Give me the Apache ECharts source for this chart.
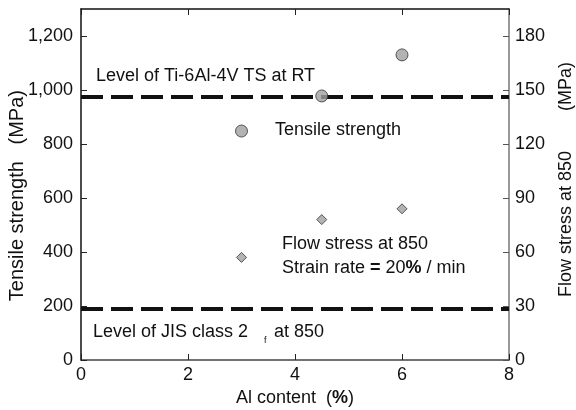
<!DOCTYPE html>
<html>
<head>
<meta charset="utf-8">
<script src="https://cdn.jsdelivr.net/npm/echarts@6/dist/echarts.min.js"></script>
<style>
  html, body { margin: 0; padding: 0; background: #fff; }
  #chart { width: 576px; height: 410px; }
</style>
</head>
<body>
<div id="chart"></div>
<script>
// Al content (%)
var alContent = [3, 4.5, 6];
// tensile strength (MPa), left axis
var tensileStrength = [848, 978, 1130];
// flow stress at 850 (MPa), right axis
var flowStress = [57, 78, 84];
// reference levels
var ti64Level = 976;   // MPa, left axis
var jisLevel = 190;    // MPa, left axis

var font = "Liberation Sans, Arial, sans-serif";
var fs = 18;

var chart = echarts.init(document.getElementById("chart"));

function txt(left, top, text, size) {
  return { type: "text", left: left, top: top, z: 10,
    style: { text: text, fontSize: size || fs, fill: "#111", fontFamily: font } };
}

var option = {
  animation: false,
  grid: { left: 81, right: 67, top: 9, bottom: 50, containLabel: false, outerBoundsMode: "none" },
  textStyle: { fontFamily: font },
  xAxis: [
    {
      type: "value",
      min: 0,
      max: 8,
      interval: 2,
      name: "Al content  ({b|%})",
      nameLocation: "middle",
      nameGap: 28,
      nameTextStyle: {
        fontSize: fs, color: "#111", fontFamily: font,
        rich: { b: { fontWeight: "bold", fontSize: fs, fontFamily: font } }
      },
      axisLine: { show: true, onZero: false, lineStyle: { color: "#444", width: 1.5 } },
      axisTick: { inside: true, length: 6, lineStyle: { color: "#222" } },
      axisLabel: { fontSize: fs, color: "#111", margin: 6 },
      splitLine: { show: false }
    },
    {
      type: "value",
      position: "top",
      min: 0,
      max: 8,
      interval: 2,
      axisLine: { show: true, onZero: false, lineStyle: { color: "#111", width: 1.5 } },
      axisTick: { inside: true, length: 6, lineStyle: { color: "#222" } },
      axisLabel: { show: false },
      splitLine: { show: false }
    }
  ],
  yAxis: [
    {
      type: "value",
      min: 0,
      max: 1300,
      interval: 200,
      name: "Tensile strength   (MPa)    ",
      nameLocation: "middle",
      nameGap: 54,
      nameMoveOverlap: false,
      nameTextStyle: { fontSize: 20, color: "#111" },
      axisLine: { show: true, onZero: false, lineStyle: { color: "#111", width: 1.5 } },
      axisTick: { inside: true, length: 6, lineStyle: { color: "#222" } },
      axisLabel: {
        fontSize: fs, color: "#111", margin: 8, showMaxLabel: false,
        formatter: function (v) { return v.toLocaleString("en-US"); }
      },
      splitLine: { show: false }
    },
    {
      type: "value",
      position: "right",
      min: 0,
      max: 195,
      interval: 30,
      name: "  Flow stress at 850        (MPa)",
      nameLocation: "middle",
      nameGap: 48,
      nameRotate: 90,
      nameTextStyle: { fontSize: fs, color: "#111" },
      axisLine: { show: true, onZero: false, lineStyle: { color: "#777", width: 1.5 } },
      axisTick: { inside: true, length: 6, lineStyle: { color: "#555" } },
      axisLabel: { fontSize: fs, color: "#111", margin: 6, showMaxLabel: false },
      splitLine: { show: false }
    }
  ],
  series: [
    {
      type: "line",
      data: [],
      z: 1,
      markLine: {
        silent: true,
        symbol: "none",
        label: { show: false },
        lineStyle: { color: "#111", width: 4, type: [22, 8] },
        data: [{ yAxis: ti64Level }, { yAxis: jisLevel }]
      }
    },
    {
      name: "Tensile strength",
      type: "scatter",
      z: 5,
      symbol: "circle",
      symbolSize: 12,
      itemStyle: { color: "#a0a0a0", borderColor: "#333", borderWidth: 1 },
      data: alContent.map(function (x, i) { return [x, tensileStrength[i]]; })
    },
    {
      name: "Flow stress",
      type: "scatter",
      yAxisIndex: 1,
      z: 5,
      symbol: "diamond",
      symbolSize: 10,
      itemStyle: { color: "#a0a0a0", borderColor: "#333", borderWidth: 1 },
      data: alContent.map(function (x, i) { return [x, flowStress[i]]; })
    }
  ],
  graphic: [
    txt(96, 67, "Level of Ti-6Al-4V TS at RT"),
    txt(275, 121, "Tensile strength"),
    txt(282, 235, "Flow stress at 850"),
    {
      type: "text", left: 282, top: 259, z: 10,
      style: {
        text: "Strain rate {b|=} 20{b|%} / min", fontSize: fs, fill: "#111", fontFamily: font,
        rich: { b: { fontWeight: "bold", fontSize: fs, fontFamily: font, fill: "#111" } }
      }
    },
    txt(93, 323, "Level of JIS class 2"),
    txt(264, 336, "f", 9),
    txt(274, 323, "at 850")
  ]
};

chart.setOption(option);
</script>
</body>
</html>
